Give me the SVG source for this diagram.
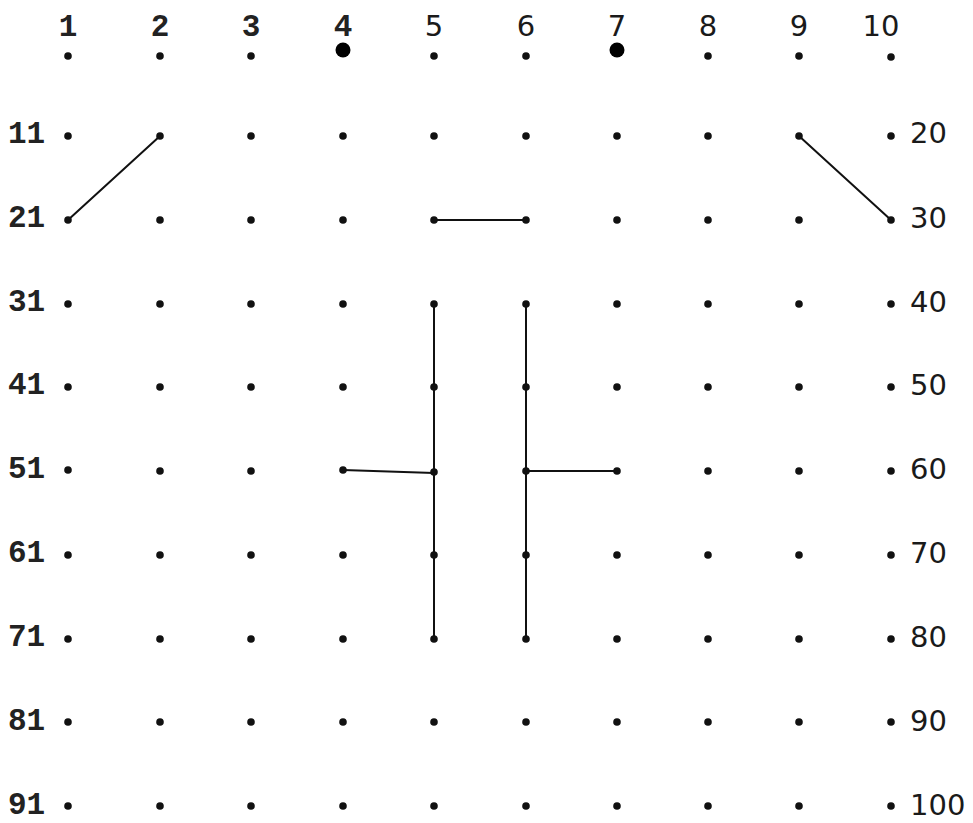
<svg xmlns="http://www.w3.org/2000/svg" width="973" height="823" viewBox="0 0 973 823">
<style>
.dot{fill:#111}
.big{fill:#000}
.mono{font-family:"Liberation Mono","Courier New",monospace;font-weight:bold;font-size:31px;fill:#222}
.sans{font-family:"DejaVu Sans",Verdana,sans-serif;font-size:29px;fill:#1a1a1a}
.top{text-anchor:middle}
.conn line{stroke:#111;stroke-width:2;stroke-linecap:round}
</style>
<rect width="973" height="823" fill="#fff"/>
<g id="labels">
<text class="mono top" x="68" y="36" font-size="28">1</text>
<text class="mono top" x="160" y="36" font-size="28">2</text>
<text class="mono top" x="251" y="36" font-size="28">3</text>
<text class="mono top" x="343" y="36" font-size="28">4</text>
<text class="sans top" x="434" y="36" font-size="26">5</text>
<text class="sans top" x="526" y="36" font-size="26">6</text>
<text class="sans top" x="617" y="36" font-size="26">7</text>
<text class="sans top" x="708" y="36" font-size="26">8</text>
<text class="sans top" x="799" y="36" font-size="26">9</text>
<text class="sans top" x="881" y="36" font-size="26">10</text>
<text class="mono" x="8" y="143">11</text>
<text class="mono" x="8" y="227">21</text>
<text class="mono" x="8" y="311">31</text>
<text class="mono" x="8" y="394">41</text>
<text class="mono" x="8" y="478">51</text>
<text class="mono" x="8" y="562">61</text>
<text class="mono" x="8" y="646">71</text>
<text class="mono" x="8" y="730">81</text>
<text class="mono" x="8" y="814">91</text>
<text class="sans" x="910" y="143">20</text>
<text class="sans" x="910" y="228">30</text>
<text class="sans" x="910" y="312">40</text>
<text class="sans" x="910" y="395">50</text>
<text class="sans" x="910" y="479">60</text>
<text class="sans" x="910" y="563">70</text>
<text class="sans" x="910" y="647">80</text>
<text class="sans" x="910" y="731">90</text>
<text class="sans" x="910" y="815">100</text>
</g>
<g id="connectors" class="conn">
<line x1="68" y1="220" x2="160" y2="136"/>
<line x1="799" y1="136" x2="891" y2="220"/>
<line x1="434" y1="220" x2="526" y2="220"/>
<line x1="434" y1="304" x2="434" y2="639"/>
<line x1="526" y1="304" x2="526" y2="639"/>
<line x1="343" y1="470" x2="434" y2="473"/>
<line x1="526" y1="471" x2="617" y2="471"/>
</g>
<g id="dots">
<g id="row1">
<circle class="dot" cx="68" cy="56" r="3.8"/><circle class="dot" cx="160" cy="56" r="3.8"/><circle class="dot" cx="251" cy="56" r="3.8"/><circle class="big" cx="343" cy="50" r="7.5"/><circle class="dot" cx="434" cy="56" r="3.8"/><circle class="dot" cx="526" cy="56" r="3.8"/><circle class="big" cx="617" cy="50" r="7.5"/><circle class="dot" cx="708" cy="56" r="3.8"/><circle class="dot" cx="799" cy="56" r="3.8"/><circle class="dot" cx="891" cy="57" r="3.8"/>
</g>
<g id="row2">
<circle class="dot" cx="68" cy="136" r="3.8"/><circle class="dot" cx="160" cy="136" r="3.8"/><circle class="dot" cx="251" cy="136" r="3.8"/><circle class="dot" cx="343" cy="136" r="3.8"/><circle class="dot" cx="434" cy="136" r="3.8"/><circle class="dot" cx="526" cy="136" r="3.8"/><circle class="dot" cx="617" cy="136" r="3.8"/><circle class="dot" cx="708" cy="136" r="3.8"/><circle class="dot" cx="799" cy="136" r="3.8"/><circle class="dot" cx="891" cy="136" r="3.8"/>
</g>
<g id="row3">
<circle class="dot" cx="68" cy="220" r="3.8"/><circle class="dot" cx="160" cy="220" r="3.8"/><circle class="dot" cx="251" cy="220" r="3.8"/><circle class="dot" cx="343" cy="220" r="3.8"/><circle class="dot" cx="434" cy="220" r="3.8"/><circle class="dot" cx="526" cy="220" r="3.8"/><circle class="dot" cx="617" cy="220" r="3.8"/><circle class="dot" cx="708" cy="220" r="3.8"/><circle class="dot" cx="799" cy="220" r="3.8"/><circle class="dot" cx="891" cy="220" r="3.8"/>
</g>
<g id="row4">
<circle class="dot" cx="68" cy="304" r="3.8"/><circle class="dot" cx="160" cy="304" r="3.8"/><circle class="dot" cx="251" cy="304" r="3.8"/><circle class="dot" cx="343" cy="304" r="3.8"/><circle class="dot" cx="434" cy="304" r="3.8"/><circle class="dot" cx="526" cy="304" r="3.8"/><circle class="dot" cx="617" cy="304" r="3.8"/><circle class="dot" cx="708" cy="304" r="3.8"/><circle class="dot" cx="799" cy="304" r="3.8"/><circle class="dot" cx="891" cy="304" r="3.8"/>
</g>
<g id="row5">
<circle class="dot" cx="68" cy="387" r="3.8"/><circle class="dot" cx="160" cy="387" r="3.8"/><circle class="dot" cx="251" cy="387" r="3.8"/><circle class="dot" cx="343" cy="387" r="3.8"/><circle class="dot" cx="434" cy="387" r="3.8"/><circle class="dot" cx="526" cy="387" r="3.8"/><circle class="dot" cx="617" cy="387" r="3.8"/><circle class="dot" cx="708" cy="387" r="3.8"/><circle class="dot" cx="799" cy="387" r="3.8"/><circle class="dot" cx="891" cy="387" r="3.8"/>
</g>
<g id="row6">
<circle class="dot" cx="68" cy="470" r="3.8"/><circle class="dot" cx="160" cy="471" r="3.8"/><circle class="dot" cx="251" cy="471" r="3.8"/><circle class="dot" cx="343" cy="470" r="3.8"/><circle class="dot" cx="434" cy="472" r="3.8"/><circle class="dot" cx="526" cy="471" r="3.8"/><circle class="dot" cx="617" cy="471" r="3.8"/><circle class="dot" cx="708" cy="471" r="3.8"/><circle class="dot" cx="799" cy="471" r="3.8"/><circle class="dot" cx="891" cy="471" r="3.8"/>
</g>
<g id="row7">
<circle class="dot" cx="68" cy="555" r="3.8"/><circle class="dot" cx="160" cy="555" r="3.8"/><circle class="dot" cx="251" cy="555" r="3.8"/><circle class="dot" cx="343" cy="555" r="3.8"/><circle class="dot" cx="434" cy="555" r="3.8"/><circle class="dot" cx="526" cy="555" r="3.8"/><circle class="dot" cx="617" cy="555" r="3.8"/><circle class="dot" cx="708" cy="555" r="3.8"/><circle class="dot" cx="799" cy="555" r="3.8"/><circle class="dot" cx="891" cy="555" r="3.8"/>
</g>
<g id="row8">
<circle class="dot" cx="68" cy="639" r="3.8"/><circle class="dot" cx="160" cy="639" r="3.8"/><circle class="dot" cx="251" cy="639" r="3.8"/><circle class="dot" cx="343" cy="639" r="3.8"/><circle class="dot" cx="434" cy="639" r="3.8"/><circle class="dot" cx="526" cy="639" r="3.8"/><circle class="dot" cx="617" cy="639" r="3.8"/><circle class="dot" cx="708" cy="639" r="3.8"/><circle class="dot" cx="799" cy="639" r="3.8"/><circle class="dot" cx="891" cy="639" r="3.8"/>
</g>
<g id="row9">
<circle class="dot" cx="68" cy="722" r="3.8"/><circle class="dot" cx="160" cy="722" r="3.8"/><circle class="dot" cx="251" cy="722" r="3.8"/><circle class="dot" cx="343" cy="722" r="3.8"/><circle class="dot" cx="434" cy="722" r="3.8"/><circle class="dot" cx="526" cy="722" r="3.8"/><circle class="dot" cx="617" cy="722" r="3.8"/><circle class="dot" cx="708" cy="722" r="3.8"/><circle class="dot" cx="799" cy="722" r="3.8"/><circle class="dot" cx="891" cy="722" r="3.8"/>
</g>
<g id="row10">
<circle class="dot" cx="68" cy="806" r="3.8"/><circle class="dot" cx="160" cy="806" r="3.8"/><circle class="dot" cx="251" cy="806" r="3.8"/><circle class="dot" cx="343" cy="806" r="3.8"/><circle class="dot" cx="434" cy="806" r="3.8"/><circle class="dot" cx="526" cy="806" r="3.8"/><circle class="dot" cx="617" cy="806" r="3.8"/><circle class="dot" cx="708" cy="806" r="3.8"/><circle class="dot" cx="799" cy="806" r="3.8"/><circle class="dot" cx="891" cy="806" r="3.8"/>
</g>
</g>
</svg>
